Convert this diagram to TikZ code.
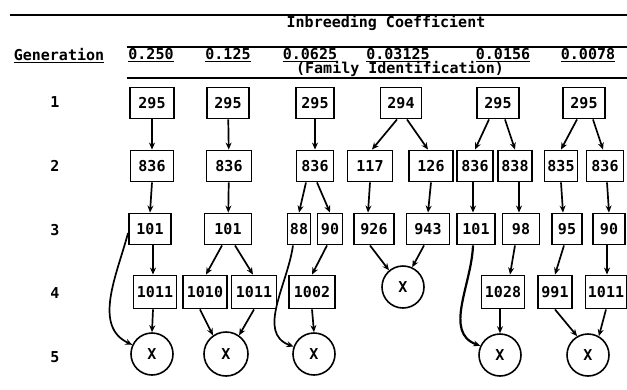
\documentclass[tikz,border=0pt]{standalone}
\usepackage{fontspec}
\setmainfont{DejaVu Sans Mono}
\usetikzlibrary{arrows.meta}
\begin{document}
\begin{tikzpicture}[x=1pt,y=-1pt,
 tt/.style={font=\bfseries\fontsize{15}{15}\selectfont},
 box/.style={tt,draw,line width=1.9pt,minimum height=31pt,inner sep=0pt},
 boxr4/.style={box,minimum height=33pt},
 xnode/.style={tt,draw,circle,line width=1.6pt,minimum size=42pt,inner sep=0pt},
 lbl/.style={tt,inner sep=0pt},
 arr/.style={line width=1.7pt,-{Stealth[length=7pt,width=6pt]}},
 rule/.style={line width=1.6pt}]
\useasboundingbox (0,0) rectangle (627,389);
% header
\draw[rule] (10,15) -- (627,15);
\draw[rule] (127,47) -- (627,47);
\draw[rule] (127,78) -- (627,78);
\node[lbl] (title) at (386,23) {Inbreeding Coefficient};
\node[lbl] (gen) at (59,56) {\underline{Generation}};
\node[lbl] (h1) at (151,55) {\underline{0.250}};
\node[lbl] (h2) at (228,55) {\underline{0.125}};
\node[lbl] (h3) at (310,55) {\underline{0.0625}};
\node[lbl] (h4) at (398,55) {\underline{0.03125}};
\node[lbl] (h5) at (503,55) {\underline{0.0156}};
\node[lbl] (h6) at (588,55) {\underline{0.0078}};
\node[lbl] (fam) at (400,69) {(Family Identification)};
% generation labels
\node[lbl] (g1) at (55,102) {1};
\node[lbl] (g2) at (55,166) {2};
\node[lbl] (g3) at (55,230) {3};
\node[lbl] (g4) at (55,293) {4};
\node[lbl] (g5) at (55,357) {5};
% column 1
\node[box,minimum width=44pt] (c1r1) at (152,103) {295};
\node[box,minimum width=43pt] (c1r2) at (152,166) {836};
\node[box,minimum width=42pt] (c1r3) at (150,229) {101};
\node[boxr4,minimum width=43pt] (c1r4) at (155,292) {1011};
\node[xnode] (c1x) at (152,354) {X};
% column 2
\node[box,minimum width=42pt] (c2r1) at (228,103) {295};
\node[box,minimum width=45pt] (c2r2) at (229,166) {836};
\node[box,minimum width=47pt] (c2r3) at (228,229) {101};
\node[boxr4,minimum width=44pt] (c2r4a) at (205,292) {1010};
\node[boxr4,minimum width=45pt] (c2r4b) at (254,292) {1011};
\node[xnode,minimum size=44pt] (c2x) at (226,354) {X};
% column 3
\node[box,minimum width=38pt] (c3r1) at (315,103) {295};
\node[box,minimum width=37pt] (c3r2) at (315,166) {836};
\node[box,minimum width=23pt] (c3r3a) at (299,229) {88};
\node[box,minimum width=25pt] (c3r3b) at (330,229) {90};
\node[boxr4,minimum width=46pt] (c3r4) at (312,292) {1002};
\node[xnode] (c3x) at (314,354) {X};
% column 4
\node[box,minimum width=41pt] (c4r1) at (401,103) {294};
\node[box,minimum width=45pt] (c4r2a) at (370,166) {117};
\node[box,minimum width=44pt] (c4r2b) at (431,166) {126};
\node[box,minimum width=40pt] (c4r3a) at (374,229) {926};
\node[box,minimum width=43pt] (c4r3b) at (428,229) {943};
\node[xnode] (c4x) at (403,287) {X};
% column 5
\node[box,minimum width=42pt] (c5r1) at (498,103) {295};
\node[box,minimum width=36pt] (c5r2a) at (475,166) {836};
\node[box,minimum width=34pt] (c5r2b) at (515,166) {838};
\node[box,minimum width=38pt] (c5r3a) at (476,229) {101};
\node[box,minimum width=37pt] (c5r3b) at (521,229) {98};
\node[boxr4,minimum width=43pt] (c5r4) at (503,292) {1028};
\node[xnode] (c5x) at (500,355) {X};
% column 6
\node[box,minimum width=42pt] (c6r1) at (584,103) {295};
\node[box,minimum width=33pt] (c6r2a) at (561,166) {835};
\node[box,minimum width=37pt] (c6r2b) at (605,166) {836};
\node[box,minimum width=30pt] (c6r3a) at (567,229) {95};
\node[box,minimum width=32pt] (c6r3b) at (609,229) {90};
\node[boxr4,minimum width=34pt] (c6r4a) at (555,292) {991};
\node[boxr4,minimum width=41pt] (c6r4b) at (606,292) {1011};
\node[xnode] (c6x) at (588,355) {X};
% edges column 1
\draw[arr] (c1r1) -- (c1r2);
\draw[arr] (c1r2.south) -- (c1r3.north);
\draw[arr] ([xshift=3pt]c1r3.south) -- ([xshift=-2pt]c1r4.north);
\draw[arr] ([xshift=-2pt]c1r4.south) -- (c1x.north);
\draw[arr] ([yshift=-4pt]c1r3.west) to[out=255,in=155] (c1x.155);
% edges column 2
\draw[arr] (c2r1) -- (c2r2);
\draw[arr] (c2r2) -- (c2r3);
\draw[arr] ([xshift=-6pt]c2r3.south) -- ([xshift=1pt]c2r4a.north);
\draw[arr] ([xshift=7pt]c2r3.south) -- ([xshift=-1pt]c2r4b.north);
\draw[arr] ([xshift=-5pt]c2r4a.south) -- (c2x.125);
\draw[arr] (c2r4b.south) -- (c2x.55);
% edges column 3
\draw[arr] (c3r1) -- (c3r2);
\draw[arr] ([xshift=-9pt]c3r2.south) -- (c3r3a.north);
\draw[arr] ([xshift=2pt]c3r2.south) -- (c3r3b.north);
\draw[arr] ([xshift=-3pt]c3r3b.south) -- (c3r4.north);
\draw[arr] (c3r4.south) -- (c3x.north);
\draw[arr] ([xshift=-6pt]c3r3a.south) to[out=262,in=160] (c3x.160);
% edges column 4
\draw[arr] ([xshift=-4pt]c4r1.south) -- ([xshift=2pt]c4r2a.north);
\draw[arr] ([xshift=6pt]c4r1.south) -- ([xshift=-3pt]c4r2b.north);
\draw[arr] (c4r2a.south) -- ([xshift=-6pt]c4r3a.north);
\draw[arr] (c4r2b.south) -- (c4r3b.north);
\draw[arr] ([xshift=-4pt]c4r3a.south) -- (c4x.130);
\draw[arr] ([xshift=-4pt]c4r3b.south) -- (c4x.65);
% edges column 5
\draw[arr] ([xshift=-9pt]c5r1.south) -- (c5r2a.north);
\draw[arr] ([xshift=7pt]c5r1.south) -- (c5r2b.north);
\draw[arr] ([xshift=-2pt]c5r2a.south) -- ([xshift=-3pt]c5r3a.north);
\draw[arr] ([xshift=4pt]c5r2b.south) -- ([xshift=-2pt]c5r3b.north);
\draw[arr] ([xshift=-6pt]c5r3b.south) -- ([xshift=7pt]c5r4.north);
\draw[arr] ([xshift=-3pt]c5r4.south) -- (c5x.north);
\draw[arr,line width=2.2pt] ([xshift=-3pt]c5r3a.south) to[out=268,in=160] (c5x.155);
% edges column 6
\draw[arr] ([xshift=-7pt]c6r1.south) -- (c6r2a.north);
\draw[arr] ([xshift=9pt]c6r1.south) -- ([xshift=-2pt]c6r2b.north);
\draw[arr] (c6r2a.south) -- ([xshift=-4pt]c6r3a.north);
\draw[arr] ([xshift=2pt]c6r2b.south) -- (c6r3b.north);
\draw[arr] ([xshift=-3pt]c6r3a.south) -- (c6r4a.north);
\draw[arr] ([xshift=-2pt]c6r3b.south) -- ([xshift=1pt]c6r4b.north);
\draw[arr] (c6r4a.south) -- (c6x.120);
\draw[arr] (c6r4b.south) -- (c6x.60);
\end{tikzpicture}
\end{document}
